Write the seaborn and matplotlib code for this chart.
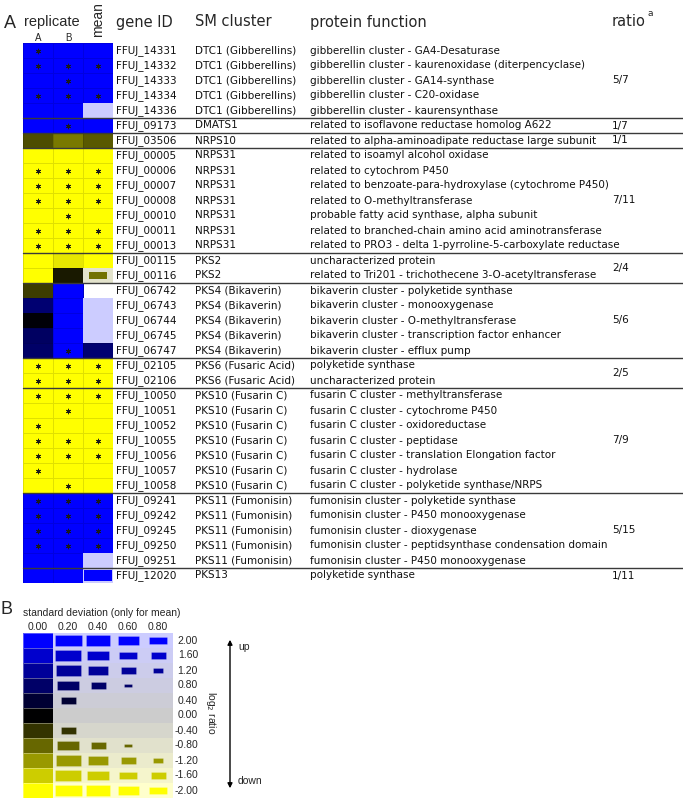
import numpy as np
import pandas as pd
import seaborn as sns
import matplotlib
matplotlib.use("Agg")
import matplotlib.pyplot as plt
from matplotlib.colors import LinearSegmentedColormap, Normalize
from matplotlib.patches import Rectangle, FancyArrowPatch
from matplotlib.transforms import blended_transform_factory

# ---------------- data ----------------
gene_ids = ["FFUJ_14331", "FFUJ_14332", "FFUJ_14333", "FFUJ_14334", "FFUJ_14336",
            "FFUJ_09173", "FFUJ_03506",
            "FFUJ_00005", "FFUJ_00006", "FFUJ_00007", "FFUJ_00008", "FFUJ_00010", "FFUJ_00011", "FFUJ_00013",
            "FFUJ_00115", "FFUJ_00116",
            "FFUJ_06742", "FFUJ_06743", "FFUJ_06744", "FFUJ_06745", "FFUJ_06747",
            "FFUJ_02105", "FFUJ_02106",
            "FFUJ_10050", "FFUJ_10051", "FFUJ_10052", "FFUJ_10055", "FFUJ_10056", "FFUJ_10057", "FFUJ_10058",
            "FFUJ_09241", "FFUJ_09242", "FFUJ_09245", "FFUJ_09250", "FFUJ_09251",
            "FFUJ_12020"]

sm_cluster = ["DTC1 (Gibberellins)"] * 5 + ["DMATS1", "NRPS10"] + ["NRPS31"] * 7 + ["PKS2"] * 2 + \
             ["PKS4 (Bikaverin)"] * 5 + ["PKS6 (Fusaric Acid)"] * 2 + ["PKS10 (Fusarin C)"] * 7 + \
             ["PKS11 (Fumonisin)"] * 5 + ["PKS13"]

protein_function = [
    "gibberellin cluster - GA4-Desaturase",
    "gibberellin cluster - kaurenoxidase (diterpencyclase)",
    "gibberellin cluster - GA14-synthase",
    "gibberellin cluster - C20-oxidase",
    "gibberellin cluster - kaurensynthase",
    "related to isoflavone reductase homolog A622",
    "related to alpha-aminoadipate reductase large subunit",
    "related to isoamyl alcohol oxidase",
    "related to cytochrom P450",
    "related to benzoate-para-hydroxylase (cytochrome P450)",
    "related to O-methyltransferase",
    "probable fatty acid synthase, alpha subunit",
    "related to branched-chain amino acid aminotransferase",
    "related to PRO3 - delta 1-pyrroline-5-carboxylate reductase",
    "uncharacterized protein",
    "related to Tri201 - trichothecene 3-O-acetyltransferase",
    "bikaverin cluster - polyketide synthase",
    "bikaverin cluster - monooxygenase",
    "bikaverin cluster - O-methyltransferase",
    "bikaverin cluster - transcription factor enhancer",
    "bikaverin cluster - efflux pump",
    "polyketide synthase",
    "uncharacterized protein",
    "fusarin C cluster - methyltransferase",
    "fusarin C cluster - cytochrome P450",
    "fusarin C cluster - oxidoreductase",
    "fusarin C cluster - peptidase",
    "fusarin C cluster - translation Elongation factor",
    "fusarin C cluster - hydrolase",
    "fusarin C cluster - polyketide synthase/NRPS",
    "fumonisin cluster - polyketide synthase",
    "fumonisin cluster - P450 monooxygenase",
    "fumonisin cluster - dioxygenase",
    "fumonisin cluster - peptidsynthase condensation domain",
    "fumonisin cluster - P450 monooxygenase",
    "polyketide synthase",
]

# log2 ratios (values beyond +-2 saturate)
rep_a = [2.5, 2.5, 2.5, 2.5, 2.5, 2.5, -0.6,
         -2.5, -2.5, -2.5, -2.5, -2.5, -2.5, -2.5,
         -2.5, -2.5,
         -0.47, 0.88, 0.05, 0.75, 0.8,
         -2.5, -2.5,
         -2.5, -2.5, -2.5, -2.5, -2.5, -2.5, -2.5,
         2.5, 2.5, 2.5, 2.5, 2.5, 2.5]
rep_b = [2.5, 2.5, 2.5, 2.5, 2.5, 2.5, -0.95,
         -2.5, -2.5, -2.5, -2.5, -2.5, -2.5, -2.5,
         -1.8, -0.2,
         2.5, 2.5, 2.5, 2.5, 2.5,
         -2.5, -2.5,
         -2.5, -2.5, -2.5, -2.5, -2.5, -2.5, -2.5,
         2.5, 2.5, 2.5, 2.5, 2.5, 2.5]
mean_val = [2.5, 2.5, 2.5, 2.5, 2.2, 2.5, -0.7,
            -2.5, -2.5, -2.5, -2.5, -2.5, -2.5, -2.5,
            -2.2, -0.9,
            np.nan, 2.0, 2.0, 2.0, 0.88,
            -2.5, -2.5,
            -2.5, -2.5, -2.5, -2.5, -2.5, -2.5, -2.5,
            2.5, 2.5, 2.5, 2.5, 2.2, 2.5]
mean_sd = [0, 0, 0, 0, 2.6, 0, 0,
           0, 0, 0, 0, 0, 0, 0,
           0, 0.35,
           np.nan, 2.3, 2.3, 2.3, 0,
           0, 0,
           0, 0, 0, 0, 0, 0, 0,
           0, 0, 0, 0, 2.6, 0.2]

sig_a = [1, 1, 0, 1, 0, 0, 0, 0, 1, 1, 1, 0, 1, 1, 0, 0, 0, 0, 0, 0, 0, 1, 1, 1, 0, 1, 1, 1, 1, 0, 1, 1, 1, 1, 0, 0]
sig_b = [0, 1, 1, 1, 0, 1, 0, 0, 1, 1, 1, 1, 1, 1, 0, 0, 0, 0, 0, 0, 1, 1, 1, 1, 1, 0, 1, 1, 0, 1, 1, 1, 1, 1, 0, 0]
sig_m = [0, 1, 0, 1, 0, 0, 0, 0, 1, 1, 1, 0, 1, 1, 0, 0, 0, 0, 0, 0, 0, 1, 1, 1, 0, 0, 1, 1, 0, 0, 1, 1, 1, 1, 0, 0]

group_sizes = [5, 1, 1, 7, 2, 5, 2, 7, 5, 1]
group_ratios = ["5/7", "1/7", "1/1", "7/11", "2/4", "5/6", "2/5", "7/9", "5/15", "1/11"]

legend_ratios = [2.00, 1.60, 1.20, 0.80, 0.40, 0.00, -0.40, -0.80, -1.20, -1.60, -2.00]
legend_sds = [0.00, 0.20, 0.40, 0.60, 0.80]

# ---------------- style ----------------
W, H = 683, 801
sns.set_theme(style="white")
plt.rcParams["font.family"] = ["DejaVu Sans"]
ARIAL = ["Liberation Sans", "DejaVu Sans"]

cmap = LinearSegmentedColormap.from_list("yb", ["#ffff00", "#000000", "#0000ff"])
norm = Normalize(-2, 2)


def bg_color(v):
    c = np.array(cmap(norm(v))[:3])
    return tuple(0.8 * np.ones(3) + 0.2 * c)


def frac_of(v, sd):
    if sd == 0:
        return 1.0
    if v == 0:
        return 0.0
    return max(0.0, 1.0 - sd / abs(v))


fig = plt.figure(figsize=(W / 100, H / 100), dpi=100)
fig.patch.set_facecolor("white")

# overlay axes in pixel coordinates for free annotations
ov = fig.add_axes([0, 0, 1, 1], zorder=5)
ov.set_xlim(0, W)
ov.set_ylim(H, 0)
ov.axis("off")
ov.patch.set_alpha(0)

# ---------------- panel A heatmap ----------------
x0, x1, y0, y1 = 23, 113, 43, 583
ax = fig.add_axes([x0 / W, 1 - y1 / H, (x1 - x0) / W, (y1 - y0) / H], zorder=2)
df = pd.DataFrame({"A": rep_a, "B": rep_b, "mean": mean_val}, index=gene_ids)
sns.heatmap(df, ax=ax, cmap=cmap, vmin=-2, vmax=2, cbar=False,
            linewidths=0.4, linecolor=(0, 0, 0, 0.12),
            xticklabels=False, yticklabels=False)
ax.set_xlabel("")
ax.set_ylabel("")

# mean column: background + rectangle scaled by standard deviation
for i, (v, sd) in enumerate(zip(mean_val, mean_sd)):
    if np.isnan(v):
        continue
    f = frac_of(v, sd)
    if f >= 1.0:
        continue
    ax.add_patch(Rectangle((2, i), 1, 1, facecolor=bg_color(v), edgecolor="none", zorder=3))
    if f > 0:
        w, h = f, f * 0.85
        ax.add_patch(Rectangle((2.5 - w / 2, i + 0.5 - h / 2), w, h,
                               facecolor=cmap(norm(v)), edgecolor="none", zorder=4))

# significance asterisks
for col, sig in enumerate([sig_a, sig_b, sig_m]):
    rows = [i for i, s in enumerate(sig) if s]
    ax.scatter([col + 0.5] * len(rows), [r + 0.5 for r in rows], marker=(6, 2, 0),
               s=12, color="#1a1a1a", linewidths=0.6, zorder=6)

trans = blended_transform_factory(ov.transData, ax.transData)

# row texts
for i, (g, c, p) in enumerate(zip(gene_ids, sm_cluster, protein_function)):
    ax.text(116, i + 0.5, g, transform=trans, fontsize=7.5, va="center", ha="left", color="#111111")
    ax.text(195, i + 0.5, c, transform=trans, fontsize=7.5, va="center", ha="left", color="#111111")
    ax.text(310, i + 0.5, p, transform=trans, fontsize=7.5, va="center", ha="left", color="#111111")

# group separators and ratio labels
start = 0
for k, (n, r) in enumerate(zip(group_sizes, group_ratios)):
    ax.text(612, start + n / 2, r, transform=trans, fontsize=7.5, va="center", ha="left", color="#111111")
    end = start + n
    if k < len(group_sizes) - 1:
        ax.plot([x0, W], [end, end], transform=trans, color="#3a3a3a", lw=1.0,
                clip_on=False, zorder=7)
    start = end

# headers
ov.text(10, 23, "A", fontsize=13, family=ARIAL, ha="center", va="center")
ov.text(52, 22, "replicate", fontsize=10.5, family=ARIAL, ha="center", va="center")
ov.text(38, 38, "A", fontsize=7, family=ARIAL, ha="center", va="center")
ov.text(68, 38, "B", fontsize=7, family=ARIAL, ha="center", va="center")
ov.text(98, 20, "mean", fontsize=10, family=ARIAL, ha="center", va="center", rotation=90)
ov.text(116, 22, "gene ID", fontsize=10.5, ha="left", va="center")
ov.text(195, 22, "SM cluster", fontsize=10.5, ha="left", va="center")
ov.text(310, 22, "protein function", fontsize=10.5, ha="left", va="center")
ov.text(612, 22, "ratio", fontsize=10.5, ha="left", va="center")
ov.text(648, 14, "a", fontsize=6.5, ha="left", va="center")

# ---------------- panel B legend ----------------
lx0, lx1, ly0, ly1 = 23, 173, 633, 798
lax = fig.add_axes([lx0 / W, 1 - ly1 / H, (lx1 - lx0) / W, (ly1 - ly0) / H], zorder=2)
row_names = [f"{r:.2f}" for r in legend_ratios]
leg_full = pd.DataFrame(np.full((len(legend_ratios), len(legend_sds)), np.nan),
                        index=row_names, columns=[f"{s:.2f}" for s in legend_sds])
leg_full.iloc[:, 0] = legend_ratios
sns.heatmap(leg_full, ax=lax, cmap=cmap, vmin=-2, vmax=2, cbar=False,
            linewidths=0.5, linecolor=(1, 1, 1, 0.35),
            xticklabels=True, yticklabels=False)
lax.set_xlabel("")
lax.set_ylabel("")
for i, r in enumerate(legend_ratios):
    lax.add_patch(Rectangle((1, i), len(legend_sds) - 1, 1, facecolor=bg_color(r),
                            edgecolor="none", zorder=1))
    for j, sd in enumerate(legend_sds[1:], start=1):
        f = frac_of(r, sd)
        if f <= 0:
            continue
        w, h = f, f * 0.85
        lax.add_patch(Rectangle((j + 0.5 - w / 2, i + 0.5 - h / 2), w, h,
                                facecolor=cmap(norm(r)), edgecolor=(1, 1, 1, 0.3),
                                lw=0.4, zorder=2))
lax.xaxis.tick_top()
lax.set_xticklabels([f"{s:.2f}" for s in legend_sds], fontsize=7.5, family=ARIAL, rotation=0)
lax.tick_params(axis="x", length=0, pad=1.0)

ltrans = blended_transform_factory(ov.transData, lax.transData)
for i, name in enumerate(row_names):
    lax.text(198, i + 0.5, name, transform=ltrans, fontsize=7.5, family=ARIAL,
             ha="right", va="center")

ov.text(6, 609, "B", fontsize=13, family=ARIAL, ha="center", va="center")
ov.text(23, 613, "standard deviation (only for mean)", fontsize=7.5, family=ARIAL,
        ha="left", va="center")
ov.text(211, 713, "log$_2$ ratio", fontsize=7.5, family=ARIAL, ha="center", va="center",
        rotation=270)
ov.add_patch(FancyArrowPatch((230, 791), (230, 637), arrowstyle="<|-|>", mutation_scale=7,
                             color="black", lw=1.0))
ov.text(238, 647, "up", fontsize=7.5, family=ARIAL, ha="left", va="center")
ov.text(238, 781, "down", fontsize=7.5, family=ARIAL, ha="left", va="center")

fig.savefig("out.png", dpi=100)
